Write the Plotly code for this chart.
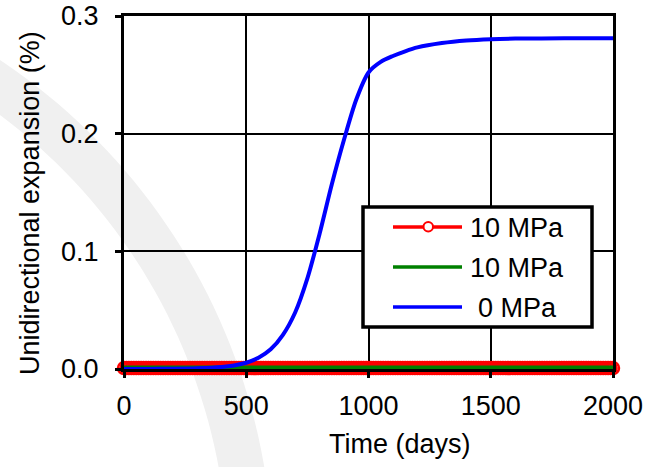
import numpy as np
import plotly.graph_objects as go

# ---- data ----
red_days = list(range(0, 2001, 10))
red_vals = [0.0008] * len(red_days)

green_days = [0, 500, 1000, 1500, 2000]
green_vals = [0.0, 0.0, 0.0, 0.0, 0.0]

blue_days = [0, 100, 200, 300, 400, 450, 500, 550, 600, 650, 700, 750, 800, 850,
             900, 950, 1000, 1050, 1100, 1150, 1200, 1300, 1400, 1500, 1600, 1800, 2000]
blue_vals = [0.0, 0.0001, 0.0002, 0.0006, 0.0017, 0.003, 0.0053, 0.0095, 0.0167, 0.029,
             0.048, 0.077, 0.115, 0.157, 0.195, 0.229, 0.252, 0.261, 0.266, 0.2700,
             0.2733, 0.277, 0.2792, 0.2803, 0.2808, 0.281, 0.281]

legend_names = ["10 MPa", "10 MPa", "0 MPa"]
x_ticks = [0, 500, 1000, 1500, 2000]
y_ticks = [0.0, 0.1, 0.2, 0.3]

# ---- layout geometry (page pixels) ----
PAGE_W, PAGE_H = 663, 467
L, R, T, B = 124, 613, 16, 369
PW, PH = R - L, B - T

def px(x):
    return (x - L) / PW

def py(y):
    return (B - y) / PH

FONT = "Arial, Liberation Sans, sans-serif"
FS = 27
RED, GREEN, BLUE = "#ff0000", "#008000", "#0000ff"

fig = go.Figure()
fig.add_trace(go.Scatter(x=red_days, y=red_vals, mode="lines+markers", name=legend_names[0],
                         line=dict(color=RED, width=3),
                         marker=dict(symbol="circle-open", size=12, color=RED, line=dict(width=2.5)),
                         cliponaxis=False, showlegend=False))
fig.add_trace(go.Scatter(x=green_days, y=green_vals, mode="lines", name=legend_names[1],
                         line=dict(color=GREEN, width=7), cliponaxis=False, showlegend=False))
fig.add_trace(go.Scatter(x=blue_days, y=blue_vals, mode="lines", name=legend_names[2],
                         line=dict(color=BLUE, width=4, shape="spline", smoothing=0.8),
                         cliponaxis=False, showlegend=False))

shapes = []
# watermark arc (light gray band)
cx, cy, ro, ri = -340, 570, 613, 568
th = np.radians(np.linspace(0, 75, 60))
outer = [(cx + ro * np.cos(t), cy - ro * np.sin(t)) for t in th]
inner = [(cx + ri * np.cos(t), cy - ri * np.sin(t)) for t in th[::-1]]
pts = outer + inner
path = "M " + " L ".join(f"{px(a):.4f},{py(b):.4f}" for a, b in pts) + " Z"
shapes.append(dict(type="path", xref="paper", yref="paper", path=path,
                   fillcolor="#f0f0f0", line=dict(width=0), layer="below"))

# legend box
lx0, lx1, ly0, ly1 = 363, 592, 207, 327
shapes.append(dict(type="rect", xref="paper", yref="paper", x0=px(lx0), x1=px(lx1),
                   y0=py(ly1), y1=py(ly0), fillcolor="white",
                   line=dict(color="black", width=3.5), layer="above"))
rows = [227, 267, 307]
cols = [RED, GREEN, BLUE]
for yy, c in zip(rows, cols):
    shapes.append(dict(type="line", xref="paper", yref="paper", x0=px(393), x1=px(462),
                       y0=py(yy), y1=py(yy), line=dict(color=c, width=3.5), layer="above"))
shapes.append(dict(type="circle", xref="paper", yref="paper", x0=px(423.5), x1=px(433),
                   y0=py(231.5), y1=py(222), fillcolor="white",
                   line=dict(color=RED, width=2), layer="above"))

annotations = []
for yy, name in zip(rows, legend_names):
    annotations.append(dict(x=px(517), y=py(yy + 1), xref="paper", yref="paper", text=name,
                            showarrow=False, xanchor="center", yanchor="middle",
                            font=dict(family=FONT, size=FS, color="black")))
annotations.append(dict(x=px(327), y=py(444), xref="paper", yref="paper", text="Time (days)",
                        showarrow=False, xanchor="left", yanchor="middle",
                        font=dict(family=FONT, size=FS, color="black")))
annotations.append(dict(x=px(30), y=py(203), xref="paper", yref="paper",
                        text="Unidirectional expansion (%)", textangle=-90,
                        showarrow=False, xanchor="center", yanchor="middle",
                        font=dict(family=FONT, size=FS, color="black")))

axis_common = dict(showline=True, linecolor="black", linewidth=3, mirror=True,
                   showgrid=True, gridcolor="black", gridwidth=2,
                   ticks="outside", tickcolor="black", tickwidth=3, ticklen=6,
                   automargin=False, ticklabeloverflow="allow",
                   tickfont=dict(family=FONT, size=FS, color="black"), zeroline=False)

fig.update_layout(
    width=PAGE_W, height=PAGE_H,
    margin=dict(l=L, r=PAGE_W - R, t=T, b=PAGE_H - B, pad=0),
    paper_bgcolor="white", plot_bgcolor="rgba(0,0,0,0)",
    xaxis=dict(range=[0, 2000], tickvals=x_ticks, ticklabelstandoff=5, **axis_common),
    yaxis=dict(range=[0, 0.3], tickvals=y_ticks, tickformat=".1f", ticklabelstandoff=11,
               **axis_common),
    shapes=shapes, annotations=annotations, showlegend=False,
)

fig.write_html("out.html", config={"displayModeBar": False},
               post_script="document.body.style.margin='0';document.body.style.overflow='hidden';")
